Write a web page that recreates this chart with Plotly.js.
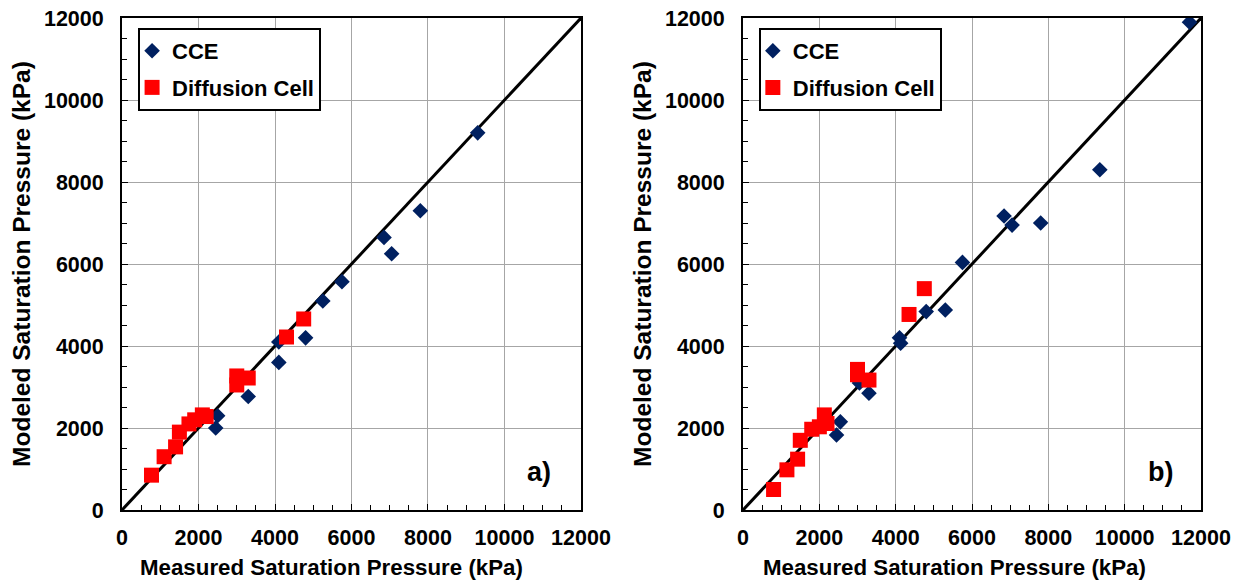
<!DOCTYPE html>
<html>
<head>
<meta charset="utf-8">
<script src="https://cdn.plot.ly/plotly-3.0.1.min.js"></script>
<style>html,body{margin:0;padding:0;background:#fff;}#chart{width:1244px;height:583px;}</style>
</head>
<body>
<div id="chart"></div>
<script>
// Panel a)
const aCceX = [9300, 7800, 6850, 7050, 5750, 5250, 4800, 4100, 4100, 3300, 2500, 2450];
const aCceY = [9200, 7300, 6650, 6250, 5570, 5100, 4200, 4100, 3600, 2770, 2300, 2000];
const aDiffX = [770, 1100, 1400, 1500, 1750, 1900, 2100, 2200, 3000, 3000, 3300, 4300, 4750];
const aDiffY = [850, 1300, 1540, 1900, 2100, 2200, 2320, 2280, 3270, 3050, 3220, 4220, 4660];
// Panel b)
const bCceX = [11700, 9350, 7800, 6840, 7050, 5750, 5300, 4800, 4100, 4130, 3300, 3050, 2550, 2450];
const bCceY = [11900, 8300, 7000, 7170, 6950, 6040, 4880, 4840, 4200, 4070, 2850, 3100, 2150, 1830];
const bDiffX = [800, 1150, 1430, 1500, 1800, 2000, 2130, 2200, 3000, 3000, 3300, 4350, 4750];
const bDiffY = [500, 980, 1240, 1700, 1970, 2030, 2320, 2110, 3430, 3300, 3170, 4770, 5400];
// 1:1 line
const lineX = [0, 12000];
const lineY = [0, 12000];
const tickVals = [0, 2000, 4000, 6000, 8000, 10000, 12000];
const tickText = ['0', '2000', '4000', '6000', '8000', '10000', '12000'];
const xTitle = 'Measured Saturation Pressure (kPa)';
const yTitle = 'Modeled Saturation Pressure (kPa)';

const navy = '#002060', red = '#FF0000';
const FF = 'Arial, "Liberation Sans", sans-serif';

function lineTrace(xa, ya) {
  return {x: lineX, y: lineY, xaxis: xa, yaxis: ya, mode: 'lines',
    line: {color: '#000', width: 3}, showlegend: false, hoverinfo: 'skip'};
}
function cce(x, y, xa, ya, lg) {
  return {x: x, y: y, xaxis: xa, yaxis: ya, mode: 'markers', name: 'CCE', legend: lg,
    legendgroup: lg + 'c',
    marker: {symbol: 'diamond', size: 12, color: navy}};
}
function diff(x, y, xa, ya, lg) {
  return {x: x, y: y, xaxis: xa, yaxis: ya, mode: 'markers', name: 'Diffusion Cell', legend: lg,
    legendgroup: lg + 'd',
    marker: {symbol: 'square', size: 15, color: red}};
}

const data = [
  lineTrace('x', 'y'), cce(aCceX, aCceY, 'x', 'y', 'legend'), diff(aDiffX, aDiffY, 'x', 'y', 'legend'),
  lineTrace('x2', 'y2'), cce(bCceX, bCceY, 'x2', 'y2', 'legend2'), diff(bDiffX, bDiffY, 'x2', 'y2', 'legend2')
];

function axis(domain, anchor, isY) {
  const a = {
    domain: domain, anchor: anchor, range: [0, 12000], autorange: false,
    tickvals: tickVals, ticktext: tickText,
    showgrid: true, gridcolor: '#a6a6a6', gridwidth: 1,
    showline: true, linecolor: '#000', linewidth: 2, mirror: true,
    ticks: 'inside', ticklen: 6, tickcolor: '#000', tickwidth: 1,
    minor: {ticks: 'inside', dtick: 500, ticklen: 5, tickcolor: '#000', tickwidth: 1, showgrid: false},
    zeroline: false,
    ticklabelstandoff: isY ? 12 : 7,
    tickfont: {family: FF, size: 21.5, color: '#000', weight: 'bold'}
  };
  if (isY) a.title = {text: yTitle, standoff: 6,
      font: {family: FF, size: 24.5, color: '#000', weight: 'bold'}};
  return a;
}
const yDom = [0.1252, 0.969];
const legendBase = {
  bgcolor: '#fff', bordercolor: '#000', borderwidth: 2,
  font: {family: FF, size: 22, color: '#000', weight: 'bold'},
  traceorder: 'grouped', tracegroupgap: 5, itemwidth: 30, indentation: -8,
  xanchor: 'left', yanchor: 'top'
};
const titleFont = {family: FF, size: 22.3, color: '#000', weight: 'bold'};

const layout = {
  width: 1244, height: 583,
  margin: {l: 0, r: 0, t: 0, b: 0},
  paper_bgcolor: '#fff', plot_bgcolor: '#fff',
  font: {family: FF, color: '#000'},
  xaxis: axis([0.0981, 0.4670], 'y', false),
  yaxis: axis(yDom, 'x', true),
  xaxis2: axis([0.5973, 0.9654], 'y2', false),
  yaxis2: axis(yDom, 'x2', true),
  legend: Object.assign({}, legendBase, {x: 0.111, y: 0.952}),
  legend2: Object.assign({}, legendBase, {x: 0.610, y: 0.952}),
  annotations: [
    {text: xTitle, xref: 'paper', yref: 'paper', x: 0.2665, y: 0.0262, xanchor: 'center', yanchor: 'middle',
     showarrow: false, font: titleFont},
    {text: xTitle, xref: 'paper', yref: 'paper', x: 0.7675, y: 0.0262, xanchor: 'center', yanchor: 'middle',
     showarrow: false, font: titleFont},
    {text: 'a)', xref: 'paper', yref: 'paper', x: 0.4333, y: 0.1904, xanchor: 'center', yanchor: 'middle',
     showarrow: false, font: {family: FF, size: 27, color: '#000', weight: 'bold'}},
    {text: 'b)', xref: 'paper', yref: 'paper', x: 0.9325, y: 0.1904, xanchor: 'center', yanchor: 'middle',
     showarrow: false, font: {family: FF, size: 27, color: '#000', weight: 'bold'}}
  ],
  showlegend: true
};

Plotly.newPlot('chart', data, layout, {staticPlot: true, displayModeBar: false});
</script>
</body>
</html>
